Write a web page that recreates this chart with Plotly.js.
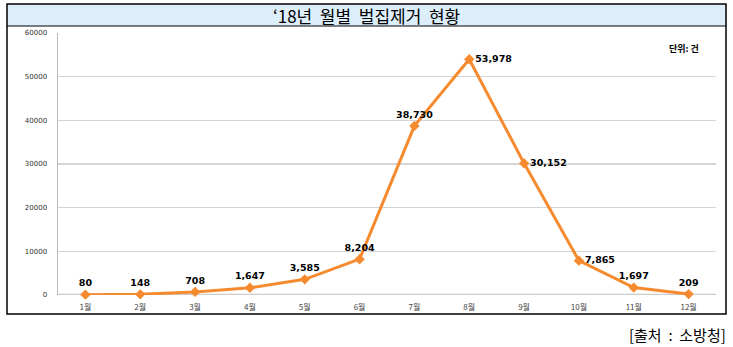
<!DOCTYPE html>
<html>
<head>
<meta charset="utf-8">
<script src="https://cdn.plot.ly/plotly-3.0.1.min.js"></script>
<style>html,body{margin:0;padding:0;background:#fff;}#chart{width:733px;height:347px;}</style>
</head>
<body>
<div id="chart"></div>
<script>
const months = ['1월','2월','3월','4월','5월','6월','7월','8월','9월','10월','11월','12월'];
const counts = [80, 148, 708, 1647, 3585, 8204, 38730, 53978, 30152, 7865, 1697, 209];
const labelPos = ['top center','top center','top center','top center','top center','top center',
                  'top center','middle right','middle right','middle right','top center','top center'];
const chartTitle = '‘18년  월별  벌집제거  현황';
const unitText = '단위: 건';
const sourceText = '[출처  :  소방청]';
const yTicks = [0, 10000, 20000, 30000, 40000, 50000, 60000];

const W = 733, H = 347;
const M = {l: 58, r: 17, t: 33, b: 52};
const pw = W - M.l - M.r, ph = H - M.t - M.b;
const px = x => (x - M.l) / pw;
const py = y => (H - M.b - y) / ph;

const trace = {
  x: months, y: counts, type: 'scatter', mode: 'lines+markers+text',
  line: {color: '#F58A2F', width: 3},
  marker: {symbol: 'diamond', size: 8, color: '#F58A2F'},
  text: counts.map(v => v.toLocaleString('en-US')),
  textposition: labelPos,
  textfont: {family: 'DejaVu Sans', size: 9.5, color: '#000', weight: 'bold'},
  cliponaxis: false, hoverinfo: 'skip'
};

const layout = {
  width: W, height: H, margin: M,
  paper_bgcolor: '#fff', plot_bgcolor: '#fff', showlegend: false,
  xaxis: {type: 'category', range: [-0.5, 11.5], showgrid: false, zeroline: false,
          showline: false, ticks: '', ticklabelstandoff: 6,
          tickfont: {family: 'Noto Sans CJK KR', size: 8, color: '#444'},
          fixedrange: true},
  yaxis: {range: [0, 60000], tickvals: yTicks, ticktext: yTicks.map(String),
          showgrid: true, gridcolor: '#D4D4D4', gridwidth: 1.5, zeroline: false,
          showline: true, linecolor: '#BBBBBB', linewidth: 1.5, ticks: '',
          ticklabelstandoff: 8,
          tickfont: {family: 'DejaVu Sans', size: 7, color: '#333'}, fixedrange: true},
  shapes: [
    {type: 'rect', xref: 'paper', yref: 'paper', x0: px(7), x1: px(726), y0: py(26), y1: py(4),
     fillcolor: '#DDEEFB', line: {width: 0}, layer: 'below'},
    {type: 'rect', xref: 'paper', yref: 'paper', x0: px(7), x1: px(726), y0: py(314), y1: py(4),
     fillcolor: 'rgba(0,0,0,0)', line: {color: '#000', width: 1.5}},
    {type: 'line', xref: 'paper', yref: 'paper', x0: px(7), x1: px(726), y0: py(26), y1: py(26),
     line: {color: '#000', width: 1}},
    {type: 'line', xref: 'paper', yref: 'y', x0: 0, x1: 1, y0: 0, y1: 0,
     line: {color: '#CCCCCC', width: 2.5}, layer: 'below'}
  ],
  annotations: [
    {text: chartTitle, xref: 'paper', yref: 'paper', x: px(366), y: py(16), showarrow: false,
     xanchor: 'center', yanchor: 'middle', font: {family: 'Noto Sans CJK KR', size: 17, color: '#000'}},
    {text: unitText, xref: 'paper', yref: 'paper', x: px(701), y: py(48), showarrow: false,
     xanchor: 'right', yanchor: 'middle', font: {family: 'Noto Sans CJK KR', size: 9, color: '#000', weight: 'bold'}},
    {text: sourceText, xref: 'paper', yref: 'paper', x: px(728), y: py(334), showarrow: false,
     xanchor: 'right', yanchor: 'middle', font: {family: 'Noto Sans CJK KR', size: 15, color: '#000'}}
  ]
};

Plotly.newPlot('chart', [trace], layout, {displayModeBar: false, staticPlot: true});
</script>
</body>
</html>
